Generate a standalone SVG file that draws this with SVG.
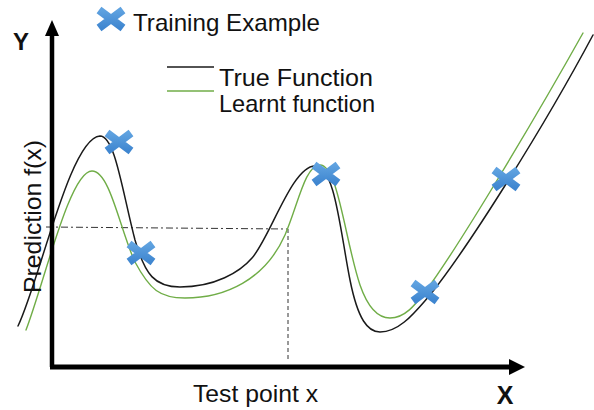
<svg xmlns="http://www.w3.org/2000/svg" width="594" height="410" viewBox="0 0 594 410">
<defs>
<style>
.t{font-family:"Liberation Sans",Arial,sans-serif;fill:#111;}
.b{font-weight:bold;}
.cur{fill:none;stroke-linejoin:round;stroke-linecap:round;}
.tf{stroke:#1a1a1a;stroke-width:1.5;}
.lf{stroke:#70ad47;stroke-width:1.4;}
.x{stroke:url(#xg);stroke-width:8;fill:none;}
</style>
<linearGradient id="xg" x1="0" y1="0" x2="0" y2="1" gradientUnits="objectBoundingBox">
<stop offset="0" stop-color="#5fa2e0"/>
<stop offset="1" stop-color="#3f86d0"/>
</linearGradient>
<g id="cross">
<path class="x" d="M-12,-9 L12,9 M-12,9 L12,-9"/>
</g>
</defs>
<rect width="594" height="410" fill="#fff"/>

<g id="guides" fill="none" stroke="#333" stroke-width="1">
<path d="M46,227 L288,229" stroke-dasharray="7 3 2 3"/>
<path d="M288,229 L288,362" stroke-dasharray="4 3"/>
</g>

<g id="curves">
<path class="cur tf" d="M18,326 C40,280 70,138 100,136 C115,136 122,190 135,240 C145,275 155,287 180,287 C215,287 240,272 252,258 C270,238 292,166 315,166 C335,166 340,230 350,280 C358,320 368,332 380,332 C400,332 415,312 430,295 C470,245 545,125 593,35"/>
<path class="cur lf" d="M26,330 C45,280 70,171 92,171 C110,171 120,230 135,262 C150,290 160,298 185,298 C225,298 265,280 285,235 C298,205 305,165 320,165 C338,165 345,240 360,285 C368,308 378,318 390,318 C405,318 415,305 425,292 C460,245 540,110 583,33"/>
</g>

<g id="axes">
<path d="M52,367 L52,34" stroke="#000" stroke-width="4.5" fill="none"/>
<polygon points="52,20 45,36 59,36" fill="#000"/>
<path d="M50,367 L511,367" stroke="#000" stroke-width="5" fill="none"/>
<polygon points="525,367 509,359 509,375" fill="#000"/>
</g>

<g id="examples">
<use href="#cross" x="119" y="142"/>
<use href="#cross" x="141" y="253"/>
<use href="#cross" x="326" y="174"/>
<use href="#cross" x="425" y="292"/>
<use href="#cross" x="506" y="179"/>
</g>

<g id="legend">
<use href="#cross" x="111" y="19"/>
<text class="t" x="133" y="31" font-size="24" textLength="187" lengthAdjust="spacingAndGlyphs">Training Example</text>
<line x1="167" y1="67" x2="214" y2="67" stroke="#1a1a1a" stroke-width="1.5"/>
<text class="t" x="219" y="86" font-size="24" textLength="154" lengthAdjust="spacingAndGlyphs">True Function</text>
<line x1="167" y1="91" x2="214" y2="91" stroke="#70ad47" stroke-width="1.5"/>
<text class="t" x="219" y="112" font-size="24" textLength="156" lengthAdjust="spacingAndGlyphs">Learnt function</text>
</g>

<g id="labels">
<text class="t b" x="21" y="50" font-size="24" text-anchor="middle">Y</text>
<text class="t b" x="505" y="404" font-size="25" text-anchor="middle">X</text>
<text class="t" x="193" y="402" font-size="24" textLength="125" lengthAdjust="spacingAndGlyphs">Test point x</text>
<text class="t" transform="translate(41,293) rotate(-90)" x="0" y="0" font-size="24" textLength="153" lengthAdjust="spacingAndGlyphs">Prediction f(x)</text>
</g>
</svg>
